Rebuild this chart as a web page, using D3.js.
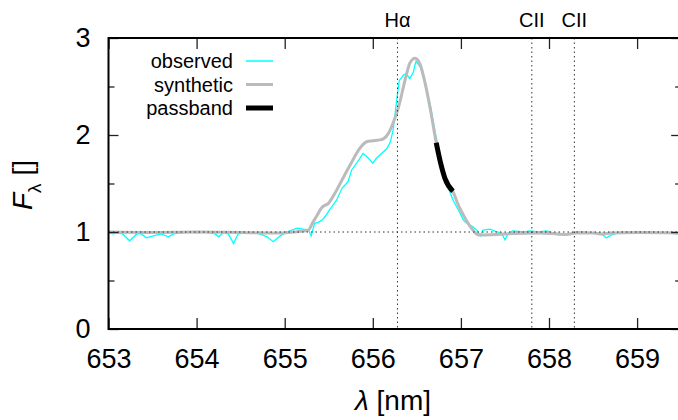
<!DOCTYPE html>
<html>
<head>
<meta charset="utf-8">
<script src="https://cdn.jsdelivr.net/npm/d3@7"></script>
<style>
  body { margin: 0; background: #fff; }
  text { font-family: "Liberation Sans", Arial, sans-serif; fill: #000; }
</style>
</head>
<body>
<div id="chart" style="width:678px;height:420px"></div>
<script>
// observed spectrum (nm, normalised flux)
var obsWave = [653.00, 653.05, 653.10, 653.16, 653.24, 653.32, 653.37, 653.43, 653.51, 653.60,
    653.68, 653.74, 653.82, 653.90, 654.00, 654.10, 654.21, 654.25, 654.30, 654.36,
    654.42, 654.47, 654.57, 654.65, 654.72, 654.80, 654.87, 654.95, 655.02, 655.08,
    655.14, 655.21, 655.27, 655.30, 655.34, 655.38, 655.42, 655.46, 655.51, 655.55,
    655.59, 655.65, 655.68, 655.72, 655.76, 655.80, 655.84, 655.89, 655.94, 656.00,
    656.04, 656.10, 656.16, 656.20, 656.23, 656.27, 656.30, 656.35, 656.38, 656.42,
    656.46, 656.49, 656.54, 656.59, 656.65, 656.71, 656.77, 656.82, 656.88, 656.91,
    656.97, 657.03, 657.08, 657.14, 657.18, 657.22, 657.25, 657.33, 657.41, 657.46,
    657.50, 657.54, 657.59, 657.71, 657.78, 657.88, 657.97, 658.05, 658.11, 658.20,
    658.31, 658.40, 658.50, 658.58, 658.65, 658.71, 658.78, 658.84, 658.94, 659.03,
    659.15, 659.25, 659.35, 659.45, 659.50];
var obsFlux = [0.99, 0.98, 0.99, 0.98, 0.91, 0.98, 0.98, 0.94, 0.96, 0.98,
    0.95, 0.98, 0.99, 1.00, 0.99, 1.00, 0.98, 0.95, 0.99, 0.98,
    0.88, 0.98, 0.99, 0.99, 0.98, 0.95, 0.90, 0.96, 1.00, 1.02,
    1.04, 1.03, 1.02, 0.96, 1.09, 1.10, 1.12, 1.16, 1.23, 1.28,
    1.33, 1.45, 1.48, 1.52, 1.64, 1.69, 1.74, 1.81, 1.77, 1.71,
    1.76, 1.81, 1.86, 1.93, 2.05, 2.35, 2.56, 2.62, 2.63, 2.58,
    2.65, 2.76, 2.70, 2.55, 2.32, 2.02, 1.75, 1.55, 1.40, 1.33,
    1.23, 1.12, 1.08, 1.05, 1.02, 0.96, 1.02, 1.03, 1.00, 0.99,
    0.92, 0.99, 1.01, 1.00, 1.01, 1.00, 1.01, 0.99, 0.97, 0.97,
    1.00, 1.00, 0.99, 0.99, 0.94, 0.97, 0.99, 1.00, 0.99, 0.99,
    1.00, 0.99, 0.99, 0.98, 0.98];

// synthetic spectrum
var synWave = [653.00, 653.50, 654.00, 654.50, 654.95, 655.10, 655.27, 655.32, 655.36, 655.42,
    655.50, 655.57, 655.67, 655.76, 655.85, 655.93, 656.00, 656.08, 656.12, 656.18,
    656.22, 656.29, 656.37, 656.42, 656.48, 656.54, 656.59, 656.65, 656.72, 656.77,
    656.82, 656.91, 656.97, 657.05, 657.12, 657.20, 657.41, 657.60, 657.90, 658.10,
    658.20, 658.30, 658.50, 658.60, 658.70, 659.00, 659.50];
var synFlux = [1.00, 0.995, 1.00, 0.995, 0.99, 1.00, 1.02, 1.10, 1.16, 1.25,
    1.30, 1.40, 1.57, 1.72, 1.86, 1.93, 1.94, 1.95, 1.96, 2.02,
    2.10, 2.28, 2.58, 2.74, 2.79, 2.72, 2.55, 2.28, 1.92, 1.71,
    1.55, 1.42, 1.28, 1.14, 1.04, 0.97, 0.975, 0.985, 0.99, 0.98,
    0.975, 0.99, 0.99, 0.98, 0.99, 0.995, 0.99];

var passband = [656.72, 656.91];

var lineNames = ["H\u03b1", "CII", "CII"];
var lineWaves = [656.28, 657.805, 658.288];

var legendNames = ["observed", "synthetic", "passband"];
var legendColors = ["#00ffff", "#bbbbbb", "#000000"];
var legendWidths = [1.5, 3, 5];

var xTicks = [653, 654, 655, 656, 657, 658, 659];
var yTicks = [0, 1, 2, 3];
var yMinor = [0.5, 1.5, 2.5];

var width = 678, height = 420;
var margin = {top: 38, left: 108.5, bottom: 91};

var svg = d3.select("#chart").append("svg")
    .attr("width", width)
    .attr("height", height);

var xScale = d3.scaleLinear()
    .domain([653, 659.5])
    .range([margin.left, margin.left + 88.1 * 6.5]);

var yScale = d3.scaleLinear()
    .domain([0, 3])
    .range([height - margin.bottom, margin.top]);

var x0 = xScale.range()[0], x1 = xScale.range()[1];
var y0 = yScale.range()[0], y1 = yScale.range()[1];

var obs = obsWave.map(function(w, i) { return [w, obsFlux[i]]; });
var syn = synWave.map(function(w, i) { return [w, synFlux[i]]; });
var band = syn.filter(function(d) { return d[0] >= passband[0] && d[0] <= passband[1]; });

var line = d3.line()
    .x(function(d) { return xScale(d[0]); })
    .y(function(d) { return yScale(d[1]); });

var smooth = d3.line()
    .curve(d3.curveMonotoneX)
    .x(function(d) { return xScale(d[0]); })
    .y(function(d) { return yScale(d[1]); });

svg.append("clipPath").attr("id", "plot")
  .append("rect")
    .attr("x", x0).attr("y", y1)
    .attr("width", x1 - x0).attr("height", y0 - y1);

var plot = svg.append("g").attr("clip-path", "url(#plot)");

plot.append("path")
    .attr("d", line(obs))
    .attr("fill", "none")
    .attr("stroke", legendColors[0])
    .attr("stroke-width", 1.3);

plot.append("path")
    .attr("d", smooth(syn))
    .attr("fill", "none")
    .attr("stroke", legendColors[1])
    .attr("stroke-width", 3)
    .attr("stroke-linejoin", "round");

plot.append("path")
    .attr("d", smooth(band))
    .attr("fill", "none")
    .attr("stroke", legendColors[2])
    .attr("stroke-width", 5);

// reference lines
svg.append("line")
    .attr("x1", x0).attr("x2", x1)
    .attr("y1", yScale(1)).attr("y2", yScale(1))
    .attr("stroke", "#333")
    .attr("stroke-width", 1)
    .attr("stroke-dasharray", "1.5,3");

svg.selectAll(".specline")
    .data(lineWaves)
    .enter()
    .append("line")
        .attr("class", "specline")
        .attr("x1", function(d) { return xScale(d); })
        .attr("x2", function(d) { return xScale(d); })
        .attr("y1", y1).attr("y2", y0)
        .attr("stroke", "#333")
        .attr("stroke-width", 1)
        .attr("stroke-dasharray", "1.5,3");

svg.selectAll(".linelabel")
    .data(lineNames)
    .enter()
    .append("text")
        .attr("class", "linelabel")
        .attr("x", function(d, i) { return xScale(lineWaves[i]); })
        .attr("y", 27)
        .attr("text-anchor", "middle")
        .attr("font-size", 20)
        .text(function(d) { return d; });

// axes, ticks pointing inward on all four sides
function styleAxis(g) {
    g.select(".domain").remove();
    g.selectAll(".tick line").attr("stroke", "#222").attr("stroke-width", 1.3);
    g.selectAll("text").attr("font-size", 27).attr("font-family", "Liberation Sans, Arial, sans-serif");
}

svg.append("g")
    .attr("transform", `translate(0,${y0})`)
    .call(d3.axisBottom(xScale).tickValues(xTicks).tickSize(-11).tickPadding(20).tickFormat(d3.format("d")))
    .call(styleAxis);

svg.append("g")
    .attr("transform", `translate(0,${y1})`)
    .call(d3.axisTop(xScale).tickValues(xTicks).tickSize(-11).tickFormat(""))
    .call(styleAxis);

svg.append("g")
    .attr("transform", `translate(${x0},0)`)
    .call(d3.axisLeft(yScale).tickValues(yTicks).tickSize(-10).tickPadding(18).tickFormat(d3.format("d")))
    .call(styleAxis);

svg.append("g")
    .attr("transform", `translate(${x0},0)`)
    .call(d3.axisLeft(yScale).tickValues(yMinor).tickSize(-6).tickFormat(""))
    .call(styleAxis);

svg.append("g")
    .attr("transform", `translate(${x1},0)`)
    .call(d3.axisRight(yScale).tickValues(yTicks).tickSize(-10).tickFormat(""))
    .call(styleAxis);

svg.append("g")
    .attr("transform", `translate(${x1},0)`)
    .call(d3.axisRight(yScale).tickValues(yMinor).tickSize(-6).tickFormat(""))
    .call(styleAxis);

svg.append("rect")
    .attr("x", x0).attr("y", y1)
    .attr("width", x1 - x0).attr("height", y0 - y1)
    .attr("fill", "none")
    .attr("stroke", "#000")
    .attr("stroke-width", 2);

// legend
var legend = svg.selectAll(".legend")
    .data(legendNames)
    .enter()
    .append("g")
        .attr("class", "legend")
        .attr("transform", function(d, i) { return `translate(0,${61 + i * 23.5})`; });

legend.append("text")
    .attr("x", 233)
    .attr("y", 7)
    .attr("text-anchor", "end")
    .attr("font-size", 20)
    .text(function(d) { return d; });

legend.append("line")
    .attr("x1", 246).attr("x2", 273)
    .attr("y1", 0).attr("y2", 0)
    .attr("stroke", function(d, i) { return legendColors[i]; })
    .attr("stroke-width", function(d, i) { return legendWidths[i]; });

// axis titles
var xTitle = svg.append("text")
    .attr("x", 355)
    .attr("y", 410)
    .attr("font-size", 28);
xTitle.append("tspan").attr("font-style", "italic").text("\u03bb");
xTitle.append("tspan").text(" [nm]");

var yTitle = svg.append("text")
    .attr("transform", "translate(31.5,210) rotate(-90)")
    .attr("font-size", 28);
yTitle.append("tspan").attr("font-style", "italic").text("F");
yTitle.append("tspan").attr("font-size", 19).attr("dy", 9).text("\u03bb");
yTitle.append("tspan").attr("dy", -9).text(" []");
</script>
</body>
</html>
